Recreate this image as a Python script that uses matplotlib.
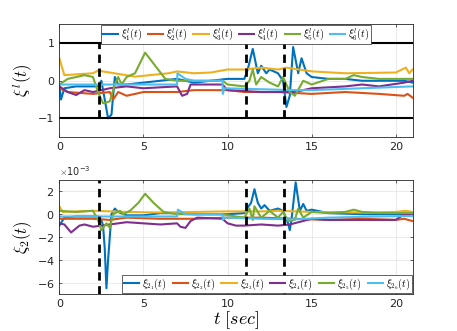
import matplotlib
matplotlib.use('Agg')
import matplotlib.pyplot as plt
from matplotlib.ticker import ScalarFormatter

# colours (MATLAB default order)
colors = ['#0072BD', '#D95319', '#EDB120', '#7E2F8E', '#77AC30', '#4DBEEE']

# switching instants
switch_t = [2.38, 11.07, 13.33]

# ---- top plot: xi^l(t), (t, value) keypoints ----
xi1_t = [0, 0.1, 0.3, 1, 2.3, 2.5, 2.7, 2.9, 3.1, 3.3, 3.5, 4, 5, 6, 7, 8, 9, 10, 11, 11.2, 11.5, 11.8, 12, 12.3, 12.5, 13, 13.3, 13.5, 13.7, 13.9, 14.2, 14.4, 14.7, 15, 16, 17, 18, 20.5, 21]
xi1_v = [-0.1, -0.5, -0.2, -0.15, -0.15, 0.0, -0.5, -1.0, -0.9, 0.1, -0.1, -0.1, -0.05, 0.0, 0.05, -0.05, 0.0, 0.05, 0.05, 0.3, 0.85, 0.2, 0.4, 0.2, 0.3, 0.2, 0.0, -0.7, -0.4, 0.9, 0.2, 0.6, 0.2, 0.1, 0.05, 0.05, 0.0, 0.0, -0.05]

xi2_t = [0, 0.5, 2, 3, 3.2, 3.5, 4, 5, 7, 8, 10, 11, 13, 15, 17, 19, 20.5, 20.7, 21]
xi2_v = [-0.2, -0.3, -0.35, -0.3, -0.5, -0.3, -0.4, -0.3, -0.3, -0.25, -0.25, -0.3, -0.3, -0.35, -0.3, -0.35, -0.4, -0.35, -0.45]

xi3_t = [0, 0.3, 2, 2.3, 4.5, 6.5, 7, 8, 9, 10, 11, 12, 13, 13.5, 15, 17, 20, 20.6, 20.8, 21]
xi3_v = [0.6, 0.15, 0.2, 0.27, 0.11, 0.2, 0.25, 0.2, 0.22, 0.3, 0.3, 0.35, 0.3, 0.35, 0.25, 0.2, 0.22, 0.35, 0.2, 0.3]

xi4_t = [0, 0.5, 1, 1.5, 2, 2.5, 3, 4, 5, 7, 7.3, 7.6, 7.8, 8.5, 9.7, 10, 12, 14, 15, 17, 18, 19, 20.5, 21]
xi4_v = [-0.15, -0.3, -0.38, -0.25, -0.3, -0.25, -0.2, -0.15, -0.2, -0.15, -0.4, -0.35, -0.1, -0.1, -0.1, -0.25, -0.3, -0.3, -0.2, -0.15, -0.1, -0.15, -0.05, 0.0]

xi5_t = [0, 0.5, 1.5, 2, 2.3, 2.6, 3, 3.3, 3.5, 3.7, 4, 4.5, 5.1, 5.7, 6.3, 7, 9.7, 10, 11, 11.3, 11.5, 11.7, 12, 12.5, 13, 13.3, 13.7, 14, 14.5, 15, 16, 17, 17.5, 18, 19, 21]
xi5_v = [-0.1, 0.05, 0.15, 0.1, -0.3, -0.6, -0.55, -0.1, 0.1, -0.1, 0.1, 0.2, 0.75, 0.4, 0.05, 0.0, 0.0, -0.1, -0.15, 0.0, 0.3, -0.1, 0.1, -0.05, -0.15, 0.1, -0.3, -0.4, 0.0, -0.1, 0.05, 0.05, 0.15, 0.1, 0.05, 0.05]

xi6_t = [0, 7.0, 7.02, 7.5, 8, 9.7, 9.72, 9.8, 14, 15, 18, 21]
xi6_v = [-0.1, -0.1, 0.2, 0.05, 0.0, 0.0, -0.35, -0.2, -0.25, -0.25, -0.2, -0.15]

# ---- bottom plot: xi_2(t), values in units of 1e-3 ----
z1_t = [0, 0.3, 1, 2.3, 2.5, 2.6, 2.7, 2.8, 2.9, 3.1, 3.3, 3.5, 4, 5, 6, 7, 8, 10, 11, 11.2, 11.4, 11.6, 11.8, 12, 12.2, 12.5, 13, 13.3, 13.6, 13.7, 13.8, 14.05, 14.3, 14.5, 14.7, 15, 16, 18, 21]
z1_v = [-1.0, -0.3, -0.2, -0.2, -0.5, -1.0, -3.0, -6.5, -4.0, 0.0, 0.5, 0.2, -0.1, -0.1, 0.1, 0.1, 0.0, 0.0, 0.1, 0.6, 1.0, 2.2, 1.0, 0.5, 0.8, 0.3, 0.5, 0.3, -0.8, -1.4, -0.5, 2.8, 0.3, 0.9, 0.3, 0.4, 0.1, 0.0, 0.0]

z2_t = [0, 2, 3, 4, 6, 8, 10, 12, 14, 16, 18, 20, 20.5, 21]
z2_v = [-0.4, -0.4, -0.5, -0.3, -0.4, -0.4, -0.3, -0.3, -0.4, -0.5, -0.4, -0.5, -0.4, -0.6]

z3_t = [0, 0.2, 2, 4, 6, 8, 10, 12, 13, 15, 18, 20, 20.6, 21]
z3_v = [0.7, 0.2, 0.3, 0.2, 0.15, 0.2, 0.25, 0.25, 0.3, 0.2, 0.15, 0.2, 0.3, 0.2]

z4_t = [0, 0.3, 0.7, 1.2, 1.5, 2, 3, 4, 5, 6, 7, 7.2, 7.5, 7.8, 8.2, 9.7, 10, 10.5, 11, 12, 13, 13.7, 15, 16, 18, 20, 20.5, 21]
z4_v = [-0.8, -0.9, -1.6, -1.0, -0.9, -1.1, -0.9, -0.7, -0.8, -0.9, -0.8, -1.1, -1.2, -0.6, -0.3, -0.4, -0.8, -1.0, -1.0, -0.9, -1.0, -0.9, -0.4, -0.5, -0.5, -0.5, 0.0, -0.1]

z5_t = [0, 1, 2, 2.3, 2.5, 2.8, 3.0, 3.2, 3.6, 3.8, 4.2, 4.7, 5.1, 5.6, 6.2, 7, 9.7, 10.5, 11, 11.3, 11.5, 11.6, 12, 12.5, 13, 13.3, 13.6, 14, 14.2, 14.5, 15, 16, 17, 17.5, 18, 19, 21]
z5_v = [0.3, 0.2, 0.3, -0.5, -1.4, -0.8, -1.2, 0.0, 0.3, 0.0, 0.3, 1.0, 1.8, 1.0, 0.2, 0.0, 0.0, -0.2, -0.3, 0.5, -0.5, 0.7, -0.3, 0.3, -0.3, 0.2, -0.6, -0.5, 0.5, -0.3, 0.2, 0.1, 0.2, 0.4, 0.2, 0.1, 0.1]

z6_t = [0, 7.0, 7.05, 7.5, 9.7, 9.72, 9.8, 10, 12, 14, 16, 19, 21]
z6_v = [-0.2, -0.2, 0.4, 0.0, 0.0, -0.5, -0.3, -0.3, -0.4, -0.45, -0.3, -0.2, -0.15]

top_series = [(xi1_t, xi1_v), (xi2_t, xi2_v), (xi3_t, xi3_v), (xi4_t, xi4_v), (xi5_t, xi5_v), (xi6_t, xi6_v)]
bot_series = [(z1_t, z1_v), (z2_t, z2_v), (z3_t, z3_v), (z4_t, z4_v), (z5_t, z5_v), (z6_t, z6_v)]
top_labels = [r'$\xi^l_{%d}(t)$' % i for i in range(1, 7)]
bot_labels = [r'$\xi_{2_{%d}}(t)$' % i for i in range(1, 7)]

plt.rcParams['mathtext.fontset'] = 'cm'
tick_col = '#262626'

fig = plt.figure(figsize=(4.57, 3.31), dpi=100)
ax1 = fig.add_axes([0.1298, 0.586, 0.773, 0.340])
ax2 = fig.add_axes([0.1298, 0.112, 0.773, 0.344])


def style(ax):
    ax.set_xlim(0, 21)
    ax.set_xticks([0, 5, 10, 15, 20])
    ax.grid(True, color='#e6e6e6', linewidth=0.6)
    ax.set_axisbelow(True)
    ax.tick_params(direction='in', length=2.5, width=0.5, labelsize=8,
                   colors=tick_col, top=True, right=True)
    for s in ax.spines.values():
        s.set_color('#262626')
        s.set_linewidth(0.6)


# top
for (t, v), c, lab in zip(top_series, colors, top_labels):
    ax1.plot(t, v, color=c, lw=1.5, label=lab)
ax1.axhline(1, color='k', lw=1.5)
ax1.axhline(-1, color='k', lw=1.5)
for ts in switch_t:
    ax1.plot([ts, ts], [-1, 1], color='k', lw=2, ls=(0, (3, 2)))
ax1.set_ylim(-1.5, 1.5)
ax1.set_yticks([-1, 0, 1])
style(ax1)
ax1.set_ylabel(r'$\xi^l(t)$', fontsize=12, labelpad=2)
ax1.legend(loc='upper center', ncol=6, fontsize=7.3, handlelength=1.5,
           handletextpad=0.3, columnspacing=0.6, borderpad=0.15,
           borderaxespad=0.05, fancybox=False, edgecolor='#262626',
           framealpha=1).get_frame().set_linewidth(0.5)

# bottom
for (t, v), c, lab in zip(bot_series, colors, bot_labels):
    ax2.plot(t, [x * 1e-3 for x in v], color=c, lw=1.5, label=lab)
for ts in switch_t:
    ax2.axvline(ts, color='k', lw=2, ls=(0, (3, 2)))
ax2.set_ylim(-7e-3, 3e-3)
ax2.set_yticks([-6e-3, -4e-3, -2e-3, 0, 2e-3])
style(ax2)
fmt = ScalarFormatter(useMathText=True)
fmt.set_powerlimits((-2, 2))
ax2.yaxis.set_major_formatter(fmt)
ax2.yaxis.get_offset_text().set_fontsize(7)
ax2.yaxis.get_offset_text().set_color(tick_col)
ax2.set_ylabel(r'$\xi_2(t)$', fontsize=12, labelpad=2)
ax2.set_xlabel(r'$t\ [sec]$', fontsize=13, labelpad=0)
ax2.legend(loc='lower right', ncol=6, fontsize=7.3, handlelength=1.5,
           handletextpad=0.3, columnspacing=0.6, borderpad=0.15,
           borderaxespad=0.05, fancybox=False, edgecolor='#262626',
           framealpha=1).get_frame().set_linewidth(0.5)

fig.savefig('out.png', dpi=100)
